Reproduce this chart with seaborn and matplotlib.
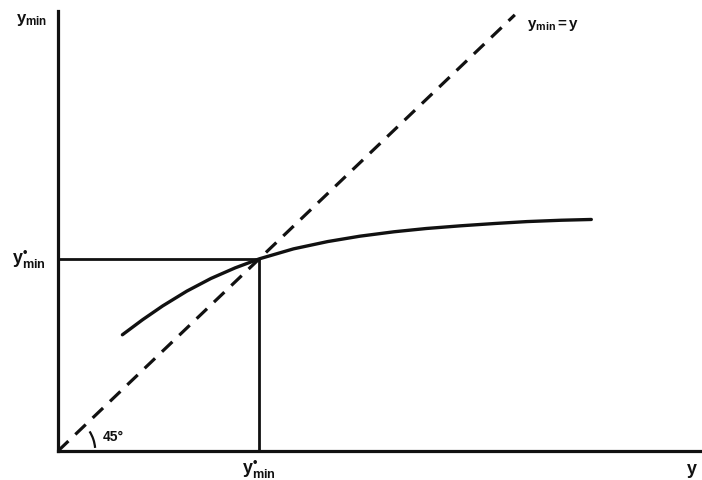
import matplotlib
matplotlib.use("Agg")
import matplotlib.pyplot as plt
from matplotlib.patches import Arc
import pandas as pd
import seaborn as sns

# values (y*min normalised to 1)
y_star = 1.0
curve_y_in = [0.32, 0.42, 0.52, 0.64, 0.76, 0.88, 1.0, 1.17, 1.34, 1.50,
              1.67, 1.83, 2.0, 2.17, 2.33, 2.50, 2.65]
curve_ymin = [0.605, 0.683, 0.755, 0.832, 0.898, 0.953, 1.0, 1.052, 1.090,
              1.118, 1.141, 1.158, 1.172, 1.184, 1.194, 1.201, 1.205]
diag_x = [0.0, 2.27]
angle_label = "45°"

sns.set_theme(style="white")
plt.rcParams["mathtext.fontset"] = "custom"
plt.rcParams["mathtext.rm"] = "Liberation Sans"
plt.rcParams["mathtext.bf"] = "Liberation Sans:bold"
plt.rcParams["mathtext.it"] = "Liberation Sans:italic"
plt.rcParams["font.family"] = ["Liberation Sans", "DejaVu Sans"]

ink = "#111111"
fig = plt.figure(figsize=(7.02, 4.81), dpi=100)
ax = fig.add_axes([58 / 702, 29 / 481, 644 / 702, 440 / 481])

curve = pd.DataFrame({"y": curve_y_in, "ymin": curve_ymin})
diag = pd.DataFrame({"y": diag_x, "ymin": diag_x})

# 45 degree line
sns.lineplot(data=diag, x="y", y="ymin", ax=ax, color=ink, lw=2.3,
             linestyle=(0, (4.5, 3.0)), sort=False)
# the curve
sns.lineplot(data=curve, x="y", y="ymin", ax=ax, color=ink, lw=2.4,
             sort=False)
# guide lines to the fixed point
ax.plot([0, y_star], [y_star, y_star], color=ink, lw=2.0)
ax.plot([y_star, y_star], [0, y_star], color=ink, lw=2.0)

ax.set_xlim(0, 3.2)
ax.set_ylim(0, 2.29)
ax.set_xticks([])
ax.set_yticks([])
ax.set_xlabel("")
ax.set_ylabel("")
for s in ["top", "right"]:
    ax.spines[s].set_visible(False)
for s in ["left", "bottom"]:
    ax.spines[s].set_color(ink)
    ax.spines[s].set_linewidth(2.3)

# angle arc and label
ax.add_patch(Arc((0, 0), 0.37, 0.385, theta1=5, theta2=33,
                 color=ink, lw=1.6))
ax.text(0.274, 0.078, angle_label, fontsize=10, fontweight="bold",
        ha="center", va="center", color=ink)

star = r"$\mathbf{y^{•}_{min}}$"
ax.text(-0.13, 2.25, r"$\mathbf{y_{min}}$", fontsize=12, ha="center",
        va="center", clip_on=False, color=ink)
ax.text(-0.145, y_star, star, fontsize=13, ha="center", va="center",
        clip_on=False, color=ink)
ax.text(y_star, -0.095, star, fontsize=13, ha="center", va="center",
        clip_on=False, color=ink)
ax.text(3.15, -0.1, r"$\mathbf{y}$", fontsize=13, ha="center",
        va="center", clip_on=False, color=ink)
ax.text(2.33, 2.22, r"$\mathbf{y_{min}=y}$", fontsize=11, ha="left",
        va="center", clip_on=False, color=ink)

fig.savefig("out.png", dpi=100)
